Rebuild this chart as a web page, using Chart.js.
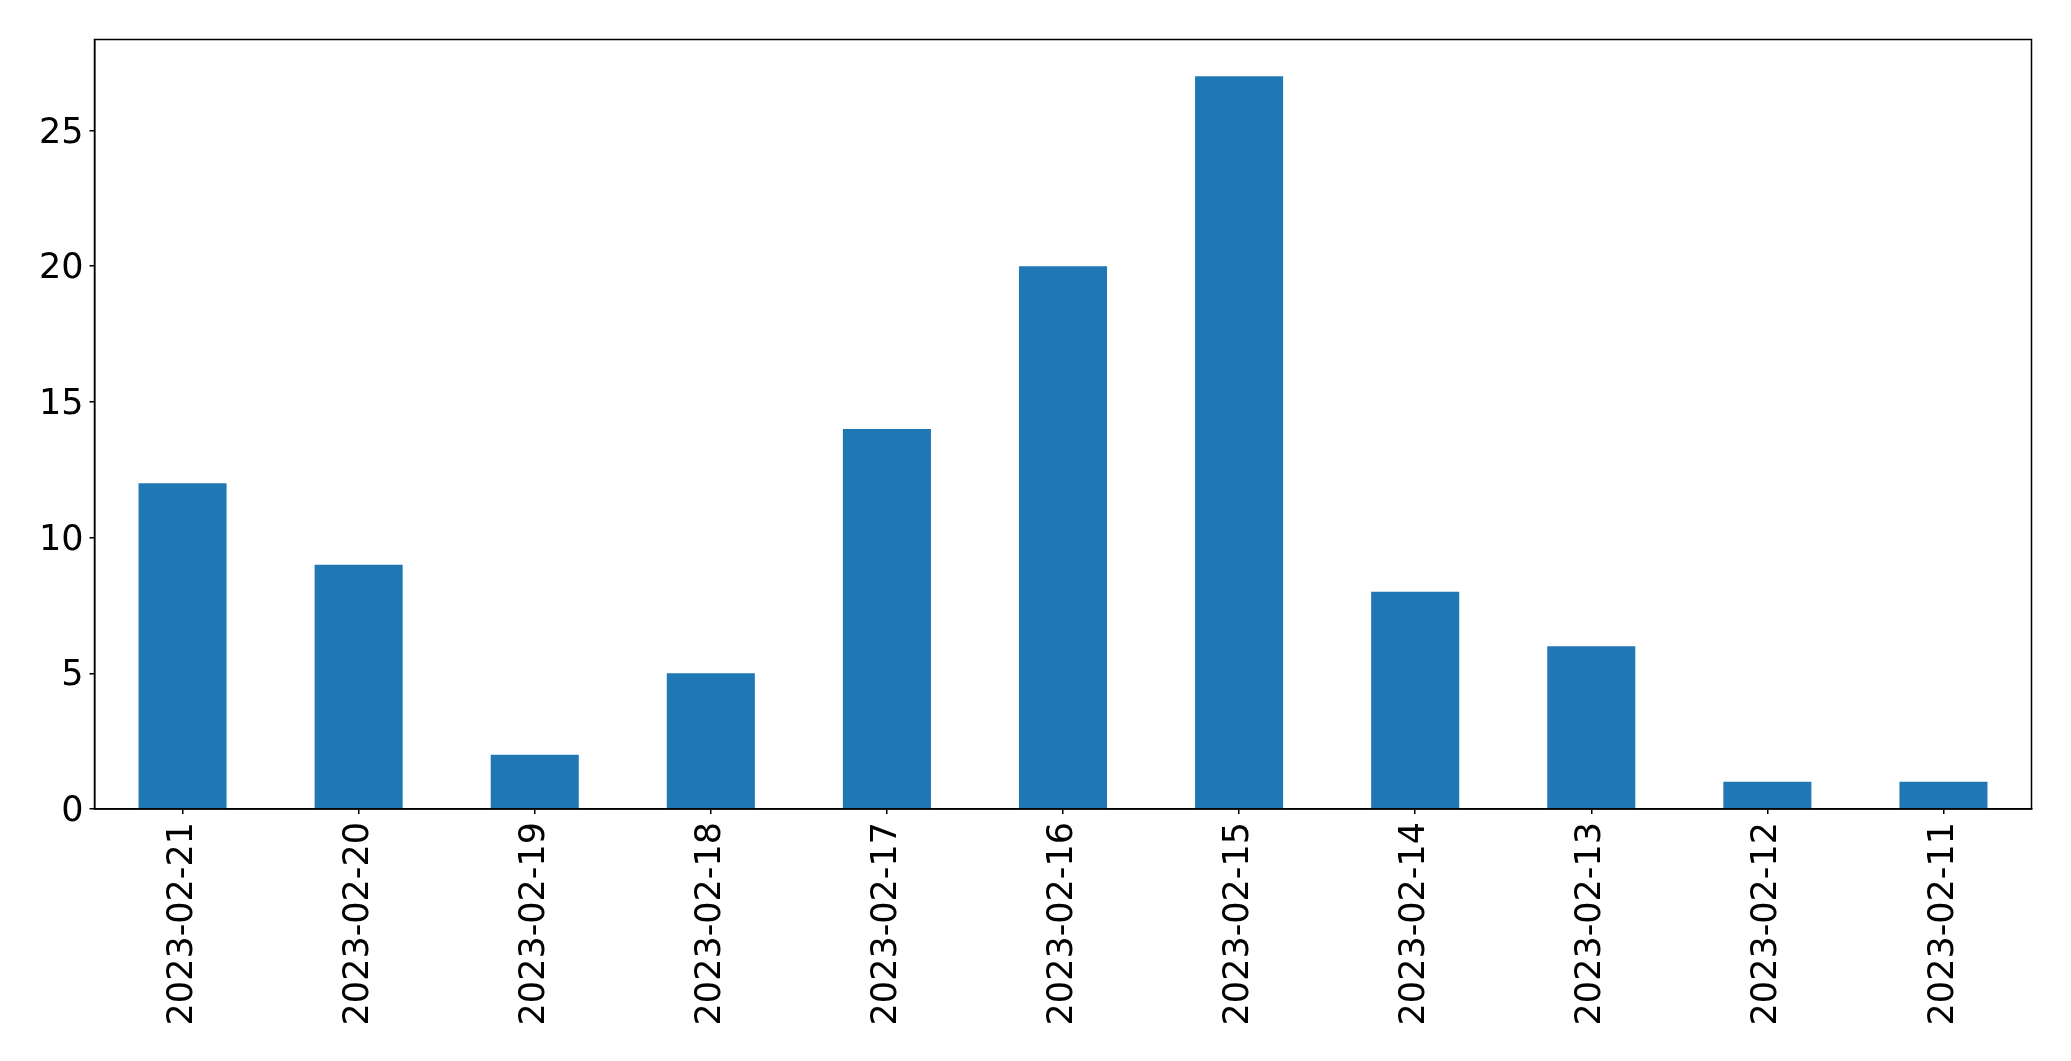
<!DOCTYPE html>
<html>
<head>
<meta charset="utf-8">
<script src="https://cdn.jsdelivr.net/npm/chart.js@4"></script>
<style>
html,body{margin:0;padding:0;background:#fff;}
#wrap{width:2071px;height:1061px;position:relative;}
</style>
</head>
<body>
<div id="wrap"><canvas id="c" width="2071" height="1061"></canvas></div>
<script>
const categories = ["2023-02-21","2023-02-20","2023-02-19","2023-02-18","2023-02-17","2023-02-16","2023-02-15","2023-02-14","2023-02-13","2023-02-12","2023-02-11"];
const counts = [12, 9, 2, 5, 14, 20, 27, 8, 6, 1, 1];
const yTicks = [0, 5, 10, 15, 20, 25];
const barColor = '#1f77b4';

const frame = {
  id: 'frame',
  afterDraw(chart) {
    const a = chart.chartArea, ctx = chart.ctx;
    ctx.save();
    ctx.strokeStyle = '#000';
    ctx.lineWidth = 1.5;
    ctx.strokeRect(a.left, a.top, a.right - a.left, a.bottom - a.top);
    ctx.restore();
  }
};

new Chart(document.getElementById('c'), {
  type: 'bar',
  data: {
    labels: categories,
    datasets: [{ data: counts, backgroundColor: barColor, borderWidth: 0,
      categoryPercentage: 1.0, barPercentage: 0.5 }]
  },
  plugins: [frame],
  options: {
    responsive: false,
    animation: false,
    devicePixelRatio: 1,
    layout: { padding: { top: 39.5, right: 39.5, left: 0, bottom: 0 } },
    plugins: { legend: { display: false }, tooltip: { enabled: false } },
    scales: {
      x: {
        offset: true,
        grid: { drawOnChartArea: false, drawTicks: true, tickLength: 5, color: '#000', lineWidth: 1.5, offset: false },
        border: { display: true, color: '#000', width: 1.5 },
        ticks: { color: '#000', font: { family: 'DejaVu Sans', size: 35 }, minRotation: 90, maxRotation: 90, padding: 8, autoSkip: false },
        afterFit(s) { s.height = 252; }
      },
      y: {
        min: 0, max: 28.35,
        grid: { drawOnChartArea: false, drawTicks: true, tickLength: 5, color: '#000', lineWidth: 1.5 },
        border: { display: true, color: '#000', width: 1.5 },
        ticks: { color: '#000', font: { family: 'DejaVu Sans', size: 35 }, stepSize: 5, padding: 6, labelOffset: 3 },
        afterBuildTicks(axis) { axis.ticks = yTicks.map(v => ({ value: v })); },
        afterFit(s) { s.width = 94.5; }
      }
    }
  }
});
</script>
</body>
</html>
